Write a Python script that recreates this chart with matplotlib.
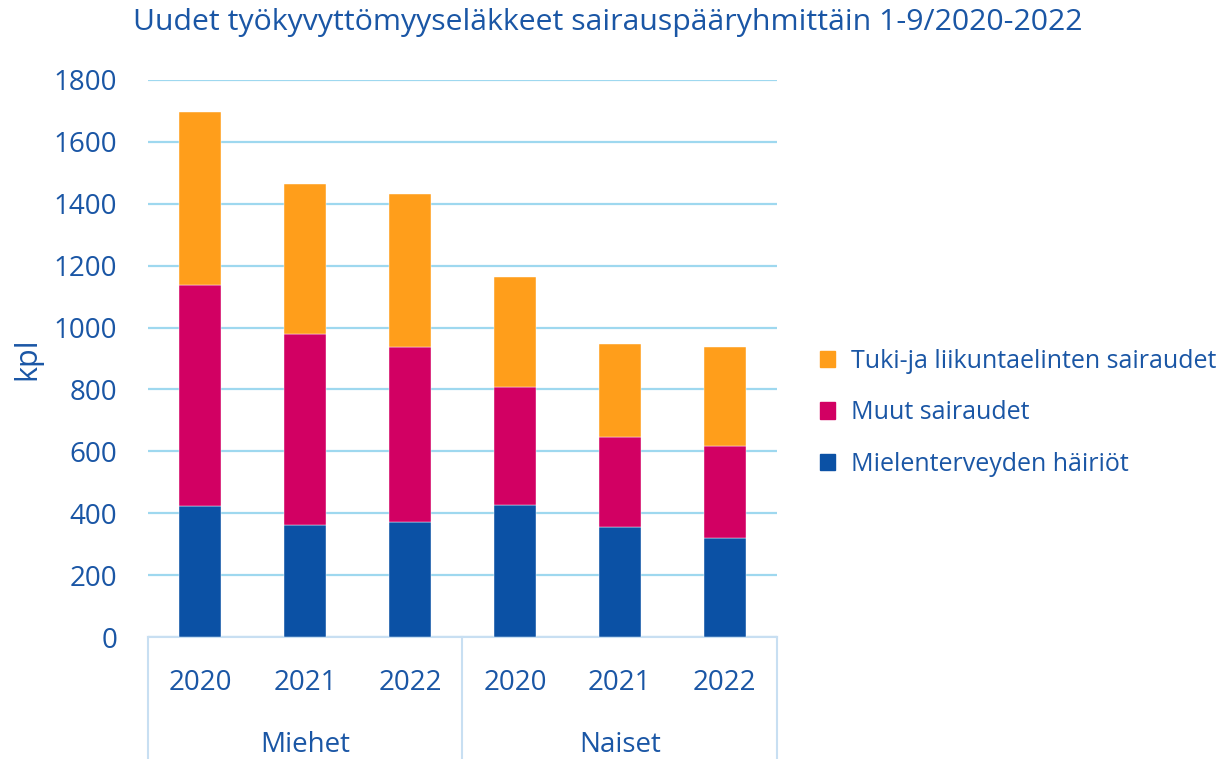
import numpy as np
import matplotlib.pyplot as plt
from matplotlib.patches import Patch

# Data
groups = ['Miehet', 'Naiset']
years = ['2020', '2021', '2022', '2020', '2021', '2022']
mielenterveys = [424, 363, 372, 428, 354, 319]
muut = [712, 617, 564, 381, 292, 298]
tuki = [559, 484, 496, 356, 302, 321]

series_names = ['Mielenterveyden häiriöt', 'Muut sairaudet', 'Tuki-ja liikuntaelinten sairaudet']
colors = ['#0b51a5', '#d20063', '#ff9e1b']
txt = '#1a56a5'
grid_c = '#9ed8ef'

plt.rcParams['font.family'] = ['Open Sans', 'DejaVu Sans']

fig = plt.figure(figsize=(12.25, 7.59), dpi=100)
ax = fig.add_axes([0.1208, 0.1607, 0.5135, 0.7339])

x = np.arange(len(years))
bottom = np.zeros(len(years))
for vals, name, c in zip([mielenterveys, muut, tuki], series_names, colors):
    ax.bar(x, vals, width=0.4, bottom=bottom, color=c, edgecolor='#ffffff',
           linewidth=0.3, label=name, zorder=3)
    bottom += np.array(vals)

ax.set_xlim(-0.5, 5.5)
ax.set_ylim(0, 1800)
ax.set_yticks(np.arange(0, 1801, 200))
ax.yaxis.grid(True, color=grid_c, linewidth=1.6, zorder=0)
ax.set_axisbelow(True)
for s in ['top', 'right', 'left']:
    ax.spines[s].set_visible(False)
ax.spines['bottom'].set_color('#c8dff2')
ax.spines['bottom'].set_linewidth(1.5)
ax.tick_params(axis='y', length=0, labelsize=20, labelcolor=txt, pad=22)
ax.tick_params(axis='x', length=0, labelbottom=False)
ax.set_ylabel('kpl', fontsize=22, color=txt)
ax.yaxis.set_label_coords(-0.168, 0.5)

# two-level category axis
for xi, yr in zip(x, years):
    ax.text(xi, -0.082, yr, transform=ax.get_xaxis_transform(), ha='center',
            va='center', fontsize=20, color=txt)
for gi, g in enumerate(groups):
    ax.text(gi * 3 + 1, -0.193, g, transform=ax.get_xaxis_transform(), ha='center',
            va='center', fontsize=20, color=txt)
for xv in [-0.5, 2.5, 5.5]:
    ax.plot([xv, xv], [0, -0.22], transform=ax.get_xaxis_transform(),
            color='#c8dff2', linewidth=1.5, clip_on=False)

fig.text(0.496, 0.971, 'Uudet työkyvyttömyyseläkkeet sairauspääryhmittäin 1-9/2020-2022',
         ha='center', va='center', fontsize=21.8, color=txt)

handles = [Patch(color=c) for c in colors][::-1]
leg = fig.legend(handles, series_names[::-1], loc='center left',
                 bbox_to_anchor=(0.651, 0.456), frameon=False, fontsize=18,
                 handlelength=0.62, handleheight=0.62, handletextpad=0.64,
                 labelspacing=1.05)
for t in leg.get_texts():
    t.set_color(txt)

fig.savefig('out.png', dpi=100)
